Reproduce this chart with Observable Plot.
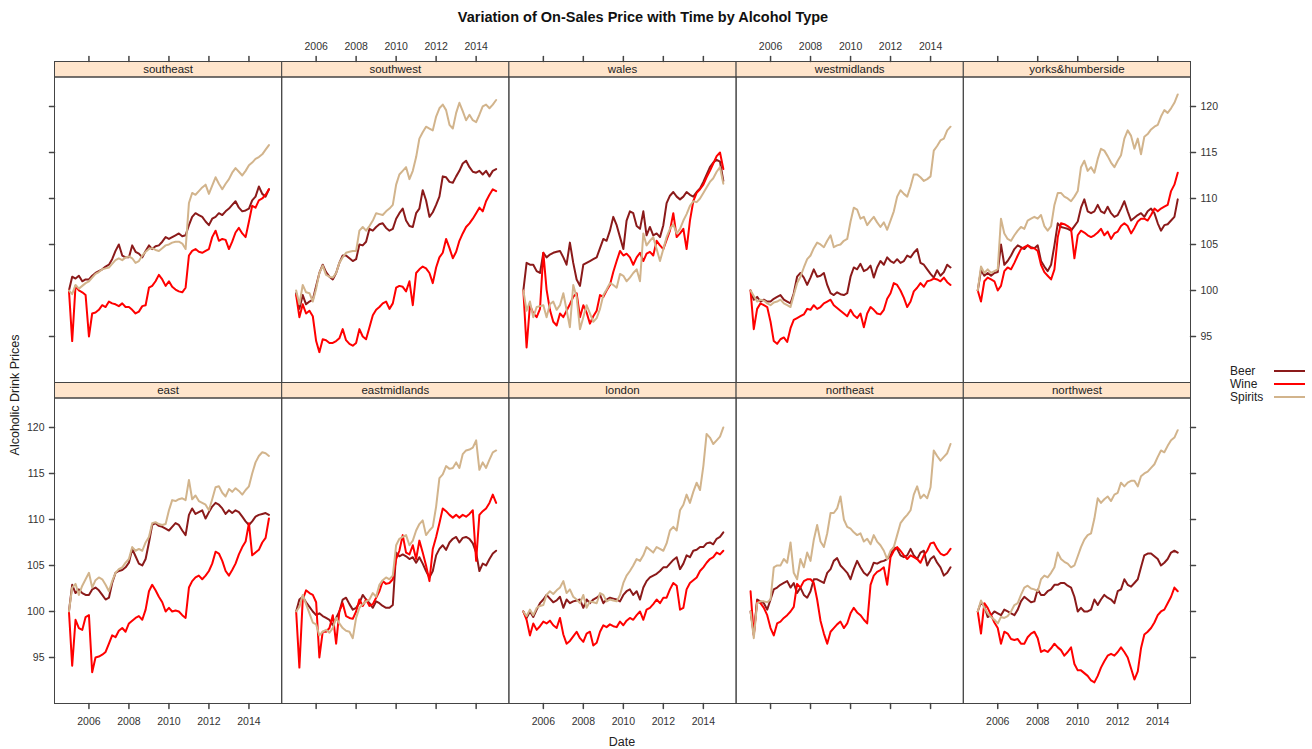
<!DOCTYPE html>
<html>
<head>
<meta charset="utf-8">
<script src="https://cdn.jsdelivr.net/npm/d3@7"></script>
<script src="https://cdn.jsdelivr.net/npm/@observablehq/plot@0.6"></script>
<style>
  html, body { margin: 0; padding: 0; background: #fff; }
  #wrap { position: relative; width: 1312px; height: 749px; overflow: hidden;
          font-family: "Liberation Sans Narrow", "Arial Narrow", "Liberation Sans", Arial, sans-serif; color: #222; }
  #chart { position: absolute; left: 0; top: 0; }
  .title { position: absolute; left: 0; width: 1286px; top: 9px; text-align: center; font-weight: bold; font-size: 14.5px; color: #111; }
  .ylab { position: absolute; left: 15px; top: 395px; transform: translate(-50%, -50%) rotate(-90deg); white-space: nowrap; font-size: 12.5px; }
  .xlab { position: absolute; left: 622px; top: 742px; transform: translate(-50%, -50%); font-size: 12.5px; }
  .leg-t { position: absolute; left: 1230px; font-size: 12px; line-height: 14px; }
  .leg-l { position: absolute; left: 1274px; width: 31px; height: 0; border-top: 2.5px solid; }
</style>
</head>
<body>
<div id="wrap">
  <div id="chart"></div>
  <div class="title">Variation of On-Sales Price with Time by Alcohol Type</div>
  <div class="ylab">Alcoholic Drink Prices</div>
  <div class="xlab">Date</div>
  <div id="legend"></div>
</div>
<script>
// ---- categories ----
const regions = ["east", "eastmidlands", "london", "northeast", "northwest",
                 "southeast", "southwest", "wales", "westmidlands", "yorks&humberside"];
const types = ["Beer", "Wine", "Spirits"];
const typeColors = ["#8b1a1a", "#ff0000", "#d2b48c"];
const yearTicks = [2006, 2008, 2010, 2012, 2014];
const priceTicks = [95, 100, 105, 110, 115, 120];

// ---- series values: one value every two months, Jan 2005 .. Jan 2015 ----
const eastBeer = [100.0,102.9,102.0,102.4,102.0,101.8, 101.8,102.4,102.6,102.3,101.8,101.3, 101.5,103.1,104.2,104.4,104.5,104.8, 105.3,106.8,106.0,105.2,105.0,105.7, 107.5,109.4,109.6,109.3,109.2,109.0, 108.8,109.2,109.6,109.4,108.8,108.3, 110.5,111.2,110.6,110.8,111.0,110.1, 110.8,111.4,111.8,111.6,111.2,110.6, 111.0,110.7,111.0,110.8,110.3,109.8, 109.4,109.8,110.3,110.5,110.6,110.7, 110.5];
const eastWine = [100.0,94.1,99.1,98.2,98.0,99.4, 99.6,93.4,95.0,95.1,95.3,95.6, 96.5,97.4,97.2,97.9,98.2,97.8, 98.7,99.0,99.3,99.5,99.1,100.2, 102.2,102.9,102.3,101.6,101.0,100.0, 100.4,100.0,100.1,100.0,99.6,99.3, 102.6,103.3,103.7,103.9,103.5,103.9, 104.4,105.2,106.5,106.3,105.5,104.4, 103.9,104.5,105.2,106.2,107.0,107.6, 109.6,106.1,106.4,106.7,107.5,108.0, 110.1];
const eastSpirits = [100.0,102.6,103.0,101.8,102.8,103.5, 104.2,102.6,103.4,103.7,103.5,102.9, 102.2,103.3,104.2,104.6,104.8,105.3, 105.7,107.0,106.6,106.8,106.6,107.5, 108.1,109.6,109.7,109.5,109.4,109.5, 111.0,112.1,112.0,112.2,112.3,112.1, 114.3,112.2,112.6,112.0,111.8,111.6, 111.0,112.2,113.5,113.6,112.9,112.5, 113.3,113.0,113.4,113.1,112.7,113.2, 113.6,115.0,116.2,116.9,117.3,117.2, 116.9];

const eastmidlandsBeer = [100.0,101.3,101.6,101.0,100.5,100.0, 99.6,99.8,99.5,99.3,99.1,98.5, 99.3,100.0,101.3,101.5,100.8,100.2, 100.4,100.9,101.8,101.3,100.9,100.4, 101.1,100.9,100.6,100.4,100.4,100.7, 106.4,106.0,106.2,106.0,105.7,105.9, 105.3,105.9,105.2,104.4,103.7,104.4, 106.1,106.8,107.2,106.7,107.5,107.9, 108.1,107.5,108.0,108.1,107.9,107.4, 106.4,104.4,105.2,105.0,105.7,106.3, 106.6];
const eastmidlandsWine = [100.0,93.9,101.3,102.3,102.0,101.8, 101.0,95.0,97.8,97.8,98.2,99.6, 96.5,100.0,100.9,99.5,99.3,99.2, 100.0,101.3,100.6,101.3,100.6,100.8, 101.5,102.2,103.3,103.0,103.1,103.5, 105.7,106.6,108.3,106.4,106.2,107.2, 105.7,107.7,106.4,105.0,103.3,106.8, 108.1,109.6,111.2,110.9,110.5,110.2, 110.5,110.2,110.5,110.3,110.6,111.0, 105.5,110.5,110.9,111.2,111.8,112.7, 111.8];
const eastmidlandsSpirits = [100.0,100.5,101.8,100.8,99.8,98.8, 98.6,97.4,97.8,98.0,97.7,98.2, 99.3,98.7,98.2,97.9,97.8,97.1, 99.3,100.4,100.8,101.1,101.3,102.0, 101.6,102.9,103.4,103.7,103.5,103.9, 107.2,107.9,108.1,108.3,107.2,107.7, 108.8,109.5,109.9,108.3,108.8,109.2, 111.4,114.5,114.9,115.8,115.5,115.6, 116.2,115.6,117.1,117.5,117.6,117.8, 118.6,115.4,116.2,115.6,116.5,117.3, 117.5];

const londonBeer = [100.0,99.3,100.0,99.4,100.2,100.9, 101.3,101.8,101.4,101.0,101.2,101.6, 100.4,101.3,100.9,101.1,101.2,101.3, 100.4,101.3,100.9,101.3,101.5,101.8, 100.9,101.3,101.5,101.4,101.3,101.1, 101.8,102.2,102.4,101.8,102.2,101.3, 102.6,103.3,103.7,103.9,104.1,104.4, 104.8,104.8,105.2,105.6,105.9,104.6, 105.2,106.1,105.9,106.6,106.7,107.0, 107.0,107.4,107.5,107.3,107.9,108.1, 108.6];
const londonWine = [100.0,99.1,97.4,98.7,98.0,98.4, 98.9,98.7,99.0,98.5,98.2,99.3, 97.5,96.5,96.8,97.3,97.8,97.1, 96.7,97.6,97.8,96.3,96.6,97.8, 98.5,98.3,98.6,98.4,98.3,98.9, 98.5,99.0,99.3,99.1,99.6,100.0, 99.1,100.2,100.4,100.8,101.3,100.9, 101.5,101.5,102.4,103.1,102.8,100.2, 100.4,102.4,103.1,103.4,103.7,104.4, 104.8,105.3,105.7,105.9,106.4,106.2, 106.6];
const londonSpirits = [100.0,99.5,100.2,99.6,100.4,100.6, 100.7,101.8,102.2,101.9,102.3,102.6, 103.3,102.0,102.4,101.6,101.3,100.9, 101.8,100.4,101.1,101.0,100.9,102.0, 101.8,101.1,101.3,101.2,101.1,101.8, 103.1,103.9,104.4,105.0,105.7,105.5, 106.1,107.0,106.7,106.4,107.0,106.8, 106.6,107.4,108.8,109.2,108.8,111.0, 111.6,112.7,111.8,113.0,114.0,113.2, 115.8,119.3,118.9,118.2,118.6,119.0, 120.0];

const northeastBeer = [100.0,97.5,101.3,101.1,100.9,100.2, 101.3,102.4,102.6,102.9,103.1,103.3, 102.6,103.1,102.0,102.6,101.8,101.5, 102.2,103.5,103.5,103.3,103.1,104.2, 104.6,105.5,105.8,105.0,104.6,104.2, 103.5,104.6,105.5,104.8,104.2,103.9, 104.4,105.3,105.2,105.4,105.5,105.7, 106.1,107.0,106.8,106.1,105.9,106.1, 106.8,106.1,105.7,106.4,106.6,105.0, 105.7,106.0,105.3,104.8,103.9,104.2, 104.8];
const northeastWine = [102.2,97.4,101.1,100.9,100.4,99.6, 98.2,97.4,98.7,98.9,99.3,99.6, 100.0,100.5,103.0,102.6,103.3,103.5, 103.5,103.1,101.3,99.0,97.6,96.5, 97.8,98.2,98.6,98.9,98.2,98.7, 99.8,100.4,99.9,99.6,99.1,98.7, 102.9,103.9,104.3,104.5,104.8,102.9, 105.9,106.6,107.0,106.6,106.1,105.7, 106.1,105.9,105.7,105.3,106.1,106.6, 107.4,107.5,106.8,106.3,106.1,106.3, 106.8];
const northeastSpirits = [100.0,97.1,100.9,101.1,101.1,101.0, 101.3,104.8,105.0,105.0,105.7,105.3, 107.5,104.2,103.5,105.7,104.8,106.4, 105.5,107.8,109.4,107.6,107.0,108.5, 110.7,110.7,111.2,112.5,110.0,109.2, 109.0,108.6,108.3,108.5,107.6,107.9, 107.3,108.3,107.6,107.2,106.6,105.7, 106.6,107.0,108.3,109.6,110.1,110.5, 111.0,112.7,113.6,112.3,112.7,112.3, 113.5,117.5,116.9,116.4,116.8,117.2, 118.2];

const northwestBeer = [100.0,101.0,100.6,99.4,99.6,100.0, 99.8,99.6,100.2,100.0,99.8,99.6, 100.2,101.1,101.6,101.3,101.0,101.1, 102.4,101.8,101.8,102.2,102.4,102.9, 102.9,103.1,103.1,102.8,102.6,101.6, 100.0,100.4,100.0,100.0,100.2,101.3, 100.7,101.3,101.8,101.5,101.3,100.9, 102.2,102.4,103.5,102.9,102.7,103.1, 103.5,104.8,106.1,106.3,106.3,106.0, 105.7,105.0,105.3,105.7,106.4,106.6, 106.4];
const northwestWine = [100.0,97.6,100.9,100.4,99.6,98.8, 98.2,96.5,97.8,97.6,97.0,96.9, 97.0,96.5,96.5,97.2,97.6,97.8, 97.1,95.6,95.8,95.6,96.0,96.5, 96.1,95.8,95.2,95.6,96.1,94.3, 93.6,93.6,93.3,93.0,92.5,92.3, 93.0,93.9,94.6,95.2,95.4,95.2, 95.6,96.1,95.6,95.0,93.8,92.6, 93.5,96.0,97.5,97.8,98.2,98.8, 99.6,100.0,100.2,100.9,101.6,102.6, 102.2];
const northwestSpirits = [100.0,101.2,100.4,99.8,99.4,99.1, 98.7,99.4,99.3,99.5,100.0,100.7, 100.9,101.8,102.6,102.8,102.5,102.4, 102.2,103.5,103.9,103.7,104.2,104.8, 106.4,105.7,105.4,105.2,104.8,105.0, 106.0,107.0,107.8,108.3,108.5,110.1, 112.3,111.8,112.2,112.5,112.0,112.7, 112.9,114.0,113.6,114.0,114.2,114.2, 113.6,114.7,115.0,115.2,115.6,116.0, 116.8,117.5,117.3,118.0,118.6,118.9, 119.7];

const southeastBeer = [100.0,101.5,101.3,101.6,101.0,101.2, 101.2,101.6,101.9,102.1,102.3,102.6, 102.8,103.4,104.3,105.0,103.8,103.6, 103.6,104.9,104.2,104.0,103.6,104.3, 104.9,104.5,104.8,104.9,105.3,105.8, 105.6,105.8,106.0,106.2,105.9,106.0, 107.1,108.0,108.4,108.2,108.0,107.5, 107.1,107.8,108.0,108.4,108.2,108.6, 108.9,109.3,109.7,109.0,108.6,108.7, 108.9,109.8,110.2,111.3,110.5,110.2, 111.0];
const southeastWine = [100.0,94.5,100.5,100.0,99.8,99.5, 95.0,97.5,97.6,97.9,98.4,98.2, 98.8,98.6,98.5,98.3,98.6,98.2, 98.2,97.9,97.5,97.7,98.3,98.4, 100.3,100.5,101.0,101.7,101.2,100.5, 101.0,100.4,100.1,99.9,99.8,100.3, 103.8,104.3,104.5,104.2,104.1,104.3, 104.5,105.8,106.5,105.4,105.6,105.5, 104.5,105.3,106.3,106.8,106.2,105.8, 107.5,109.2,109.0,109.8,110.0,110.4, 111.0];
const southeastSpirits = [100.0,99.6,100.6,100.2,100.5,100.8, 101.0,101.4,101.8,102.0,102.3,102.4, 102.5,102.9,103.3,103.5,103.3,103.6, 103.7,103.5,103.0,103.2,103.8,104.2, 104.5,104.6,104.4,104.3,104.6,104.9, 105.0,105.2,105.3,105.3,105.1,104.5, 109.5,110.6,110.4,110.8,111.2,111.5, 110.5,111.4,112.3,111.6,111.0,111.6, 112.1,112.8,113.3,112.9,112.5,113.0, 113.6,113.9,114.3,114.5,114.8,115.3, 115.8];

const southwestBeer = [99.7,98.0,99.5,98.5,98.8,99.0, 100.5,101.9,102.8,102.0,101.5,101.2, 101.9,103.0,103.8,103.8,103.5,103.2, 103.4,105.0,104.9,105.3,106.7,106.5, 106.9,107.2,107.3,106.8,106.5,106.7, 107.8,108.4,108.9,107.6,107.0,106.9, 108.4,108.9,110.9,109.8,108.0,108.5, 109.3,110.2,112.4,112.3,111.8,111.7, 112.4,113.0,113.8,114.1,113.4,112.9, 112.8,113.0,112.6,113.0,112.4,113.0, 113.2];
const southwestWine = [99.5,97.1,98.5,97.5,97.8,97.2, 94.5,93.3,94.7,94.6,94.3,94.3, 94.5,94.8,95.8,94.6,94.2,94.0, 94.3,95.8,95.0,94.7,96.0,97.3, 97.9,98.2,98.6,98.8,98.0,98.6, 100.3,100.5,100.4,99.9,101.0,98.4, 101.9,102.3,102.6,102.4,101.9,100.8, 102.5,103.6,104.1,105.6,104.6,103.5, 104.2,105.4,106.2,106.9,107.3,107.8, 108.4,109.0,108.6,109.7,110.4,111.0, 110.8];
const southwestSpirits = [100.0,98.5,100.6,99.8,99.7,98.8, 100.2,101.9,102.7,101.7,101.5,101.4, 101.9,103.0,103.6,104.1,104.2,104.3, 104.3,106.5,106.9,106.5,107.0,107.6, 108.4,108.3,108.2,108.6,108.9,109.3, 111.5,112.6,113.0,113.4,112.1,113.0, 114.5,116.5,117.2,117.8,117.6,117.4, 118.9,119.8,120.2,119.6,118.0,117.6, 119.3,120.4,119.5,118.5,119.1,118.5, 118.3,119.1,120.0,120.2,119.8,120.2, 120.7];

const walesBeer = [100.0,103.0,102.8,102.8,102.1,101.9, 104.1,103.6,103.9,104.1,104.2,104.3, 103.6,102.8,105.2,103.0,101.2,100.5, 102.8,103.0,103.2,103.4,103.6,104.6, 105.6,105.4,106.5,108.0,107.1,105.8, 104.5,107.6,108.6,108.4,107.0,106.7, 108.6,106.0,106.9,106.0,106.2,105.8, 107.1,109.5,110.3,110.7,110.2,109.9, 110.2,110.7,110.4,110.2,110.7,111.1, 111.8,112.6,113.4,113.9,114.2,114.0, 111.9];
const walesWine = [100.0,93.8,98.4,97.5,97.1,98.0, 104.1,100.1,97.9,96.6,96.2,97.5, 97.1,97.8,98.5,99.3,99.7,97.1, 98.4,97.6,96.4,97.2,97.8,99.5, 99.3,100.0,100.6,102.0,103.2,104.3, 103.8,104.0,103.6,102.8,103.6,104.1, 103.2,104.0,104.2,103.8,105.4,104.9, 104.5,105.5,106.5,108.4,105.8,106.2, 106.7,104.5,107.6,109.7,110.6,111.0, 111.5,112.3,113.0,113.8,114.6,115.0, 113.2];
const walesSpirits = [100.0,97.8,98.8,97.1,98.2,98.3, 98.4,97.1,98.5,98.8,97.9,98.4, 99.7,97.9,96.0,100.6,99.3,95.8, 97.1,98.4,97.5,96.6,97.0,98.0, 99.5,100.1,100.8,100.6,100.3,101.8, 101.6,101.0,101.4,101.9,102.3,101.0, 106.2,104.9,105.4,105.8,104.5,103.2, 104.5,105.8,106.7,107.2,106.2,106.7, 107.6,108.3,109.2,109.7,109.6,110.0, 110.6,111.2,111.8,112.2,112.9,113.4, 111.6];

const westmidlandsBeer = [100.0,99.0,99.3,98.8,99.0,98.8, 98.8,99.1,99.3,99.5,99.0,98.8, 98.6,99.7,101.5,101.9,101.4,100.6, 101.4,102.3,101.5,101.6,101.9,100.6, 99.7,99.5,99.8,99.6,99.5,99.7, 101.5,102.5,102.3,102.9,102.1,102.3, 102.7,101.4,102.5,103.2,102.8,103.6, 103.2,103.0,103.4,103.0,103.2,103.8, 103.6,104.1,104.5,103.0,102.8,102.3, 101.8,101.4,102.2,101.6,102.0,102.8, 102.5];
const westmidlandsWine = [100.0,95.8,98.0,98.6,98.4,98.2, 96.6,94.5,94.2,94.7,94.9,94.4, 95.9,96.8,97.0,97.2,97.4,98.0, 97.9,98.4,98.0,98.2,98.6,98.8, 99.0,98.4,98.1,97.8,97.5,97.2, 97.9,97.3,97.0,97.5,96.0,97.5, 98.2,97.9,97.5,97.4,97.9,99.1, 99.7,100.8,100.6,100.0,99.2,98.2, 98.8,99.9,100.3,100.8,100.4,101.0, 101.1,101.3,101.2,101.0,101.4,100.9, 100.6];
const westmidlandsSpirits = [100.0,99.4,98.8,99.0,98.9,98.6, 98.4,98.7,98.8,99.0,98.6,98.4, 98.2,99.5,100.8,101.5,102.5,103.4, 103.8,104.6,105.2,105.0,104.7,105.4, 106.0,104.7,104.9,105.0,105.4,105.6, 107.5,109.0,108.8,107.8,108.0,107.1, 107.6,108.0,107.4,106.9,107.4,106.6, 107.6,108.6,110.2,110.9,110.5,110.2, 111.3,112.6,112.6,112.3,111.9,112.1, 112.4,115.2,115.7,116.3,116.5,117.4, 117.8];

const yorksBeer = [100.0,102.2,101.6,101.9,101.6,101.9, 102.0,105.0,102.8,103.2,103.8,104.5, 104.9,104.7,104.5,104.9,104.7,104.6, 104.9,103.2,102.6,102.1,102.8,104.9, 107.3,106.9,106.8,106.7,106.5,107.0, 107.5,109.0,109.9,108.6,108.4,108.6, 109.3,108.6,108.4,109.1,108.4,108.0, 108.2,108.9,109.7,108.6,107.6,107.9, 108.2,108.4,108.0,108.6,108.9,108.4, 107.3,106.5,107.1,107.2,107.6,108.0, 109.9];
const yorksWine = [100.0,98.8,101.0,101.4,101.2,101.0, 100.0,100.5,102.1,102.5,102.3,103.0, 103.8,104.5,104.7,104.9,104.6,104.6, 104.3,102.8,102.0,101.6,101.2,102.3, 105.8,107.3,107.2,107.0,106.7,103.5, 106.0,106.5,106.3,106.0,105.8,106.0, 106.3,106.7,106.0,106.4,105.6,106.2, 106.4,107.0,107.3,107.0,106.2,106.8, 107.5,107.8,107.8,107.6,108.2,108.9, 108.6,108.9,109.1,109.3,110.8,111.5, 112.8];
const yorksSpirits = [100.0,102.6,101.9,102.3,101.9,102.1, 102.3,107.8,106.2,105.6,105.4,106.0, 106.5,106.9,106.7,107.6,107.8,108.0, 107.8,108.2,107.0,106.5,107.0,109.3, 110.6,110.6,110.2,110.0,109.7,110.2, 110.8,113.4,114.1,113.0,113.4,112.8, 114.3,115.4,115.2,114.6,113.9,113.4, 114.1,114.7,116.5,117.4,116.8,115.4, 116.5,114.8,116.7,117.0,117.5,117.8, 118.0,118.9,119.6,119.3,119.8,120.4, 121.3];

const seriesByRegion = {
  "east": [eastBeer, eastWine, eastSpirits],
  "eastmidlands": [eastmidlandsBeer, eastmidlandsWine, eastmidlandsSpirits],
  "london": [londonBeer, londonWine, londonSpirits],
  "northeast": [northeastBeer, northeastWine, northeastSpirits],
  "northwest": [northwestBeer, northwestWine, northwestSpirits],
  "southeast": [southeastBeer, southeastWine, southeastSpirits],
  "southwest": [southwestBeer, southwestWine, southwestSpirits],
  "wales": [walesBeer, walesWine, walesSpirits],
  "westmidlands": [westmidlandsBeer, westmidlandsWine, westmidlandsSpirits],
  "yorks&humberside": [yorksBeer, yorksWine, yorksSpirits]
};

// ---- build tables ----
const dates = d3.utcMonth.every(2).range(new Date(Date.UTC(2005, 0, 1)), new Date(Date.UTC(2015, 0, 2)));
const panels = regions.map((region, i) => ({region, col: i % 5, row: i < 5 ? 1 : 0}));
const rows = [];
for (const p of panels) {
  seriesByRegion[p.region].forEach((values, t) => {
    values.forEach((v, i) => rows.push({region: p.region, col: p.col, row: p.row, type: types[t], date: dates[i], value: v}));
  });
}
const cols = [0, 1, 2, 3, 4];
const xBottom = cols.flatMap(col => yearTicks.map(y => ({col, row: 1, date: new Date(Date.UTC(y, 0, 1)), label: col % 2 === 0 ? String(y) : ""})));
const xTop = cols.flatMap(col => yearTicks.map(y => ({col, row: 0, date: new Date(Date.UTC(y, 0, 1)), label: col % 2 === 1 ? String(y) : ""})));
const yLeft = [0, 1].flatMap(row => priceTicks.map(v => ({col: 0, row, v, label: row === 1 ? String(v) : ""})));
const yRight = [0, 1].flatMap(row => priceTicks.map(v => ({col: 4, row, v, label: row === 0 ? String(v) : ""})));

const tickShape = {draw(context, l) { context.moveTo(0, 0); context.lineTo(0, -l); }};
const axisColor = "#444";
const panelH = 305.5, stripH = 15.5;

const chart = Plot.plot({
  width: 1312,
  height: 749,
  marginLeft: 54,
  marginRight: 122,
  marginTop: 76.5,
  marginBottom: 46,
  style: {fontFamily: '"Liberation Sans Narrow", "Arial Narrow", "Liberation Sans", Arial, sans-serif', fontSize: "10.5px", background: "#fff", color: "#333"},
  fx: {domain: cols, padding: 0, axis: null, round: false},
  fy: {domain: [0, 1], paddingInner: stripH / (panelH + stripH), paddingOuter: 0, axis: null, round: false},
  x: {type: "utc", domain: [new Date(Date.UTC(2004, 3, 12)), new Date(Date.UTC(2015, 7, 22))], axis: null},
  y: {domain: [90, 123.2], axis: null},
  color: {domain: types, range: typeColors},
  marks: [
    Plot.frame({fill: "#ffe5cc", stroke: axisColor, insetTop: -stripH, insetBottom: panelH}),
    Plot.frame({stroke: axisColor}),
    Plot.text(panels, {fx: "col", fy: "row", text: "region", frameAnchor: "top", lineAnchor: "middle", dy: -stripH / 2, fontSize: 11.5, fill: "#222"}),
    Plot.line(rows, {x: "date", y: "value", z: "type", stroke: "type", fx: "col", fy: "row", strokeWidth: 2, curve: "linear"}),
    // x ticks
    Plot.vector(xBottom, {x: "date", fx: "col", fy: "row", frameAnchor: "bottom", length: 5, rotate: 180, anchor: "start", shape: tickShape, stroke: axisColor}),
    Plot.text(xBottom.filter(d => d.label), {x: "date", fx: "col", fy: "row", frameAnchor: "bottom", lineAnchor: "middle", dy: 18.5, text: "label", fill: "#333"}),
    Plot.vector(xTop, {x: "date", fx: "col", fy: "row", frameAnchor: "top", dy: -stripH, length: 5, rotate: 0, anchor: "start", shape: tickShape, stroke: axisColor}),
    Plot.text(xTop.filter(d => d.label), {x: "date", fx: "col", fy: "row", frameAnchor: "top", lineAnchor: "middle", dy: -30.5, text: "label", fill: "#333"}),
    // y ticks
    Plot.vector(yLeft, {y: "v", fx: "col", fy: "row", frameAnchor: "left", length: 5, rotate: 270, anchor: "start", shape: tickShape, stroke: axisColor}),
    Plot.text(yLeft.filter(d => d.label), {y: "v", fx: "col", fy: "row", frameAnchor: "left", dx: -10, textAnchor: "end", text: "label", fill: "#333"}),
    Plot.vector(yRight, {y: "v", fx: "col", fy: "row", frameAnchor: "right", length: 5, rotate: 90, anchor: "start", shape: tickShape, stroke: axisColor}),
    Plot.text(yRight.filter(d => d.label), {y: "v", fx: "col", fy: "row", frameAnchor: "right", dx: 10, textAnchor: "start", text: "label", fill: "#333"})
  ]
});
document.getElementById("chart").appendChild(chart);

// legend (right side, as in the reference)
const legend = document.getElementById("legend");
const legendTops = [364, 377, 390];
types.forEach((t, i) => {
  const label = document.createElement("div");
  label.className = "leg-t";
  label.style.top = legendTops[i] + "px";
  label.textContent = t;
  legend.appendChild(label);
  const line = document.createElement("div");
  line.className = "leg-l";
  line.style.top = (legendTops[i] + 6) + "px";
  line.style.borderTopColor = typeColors[i];
  legend.appendChild(line);
});
</script>
</body>
</html>
